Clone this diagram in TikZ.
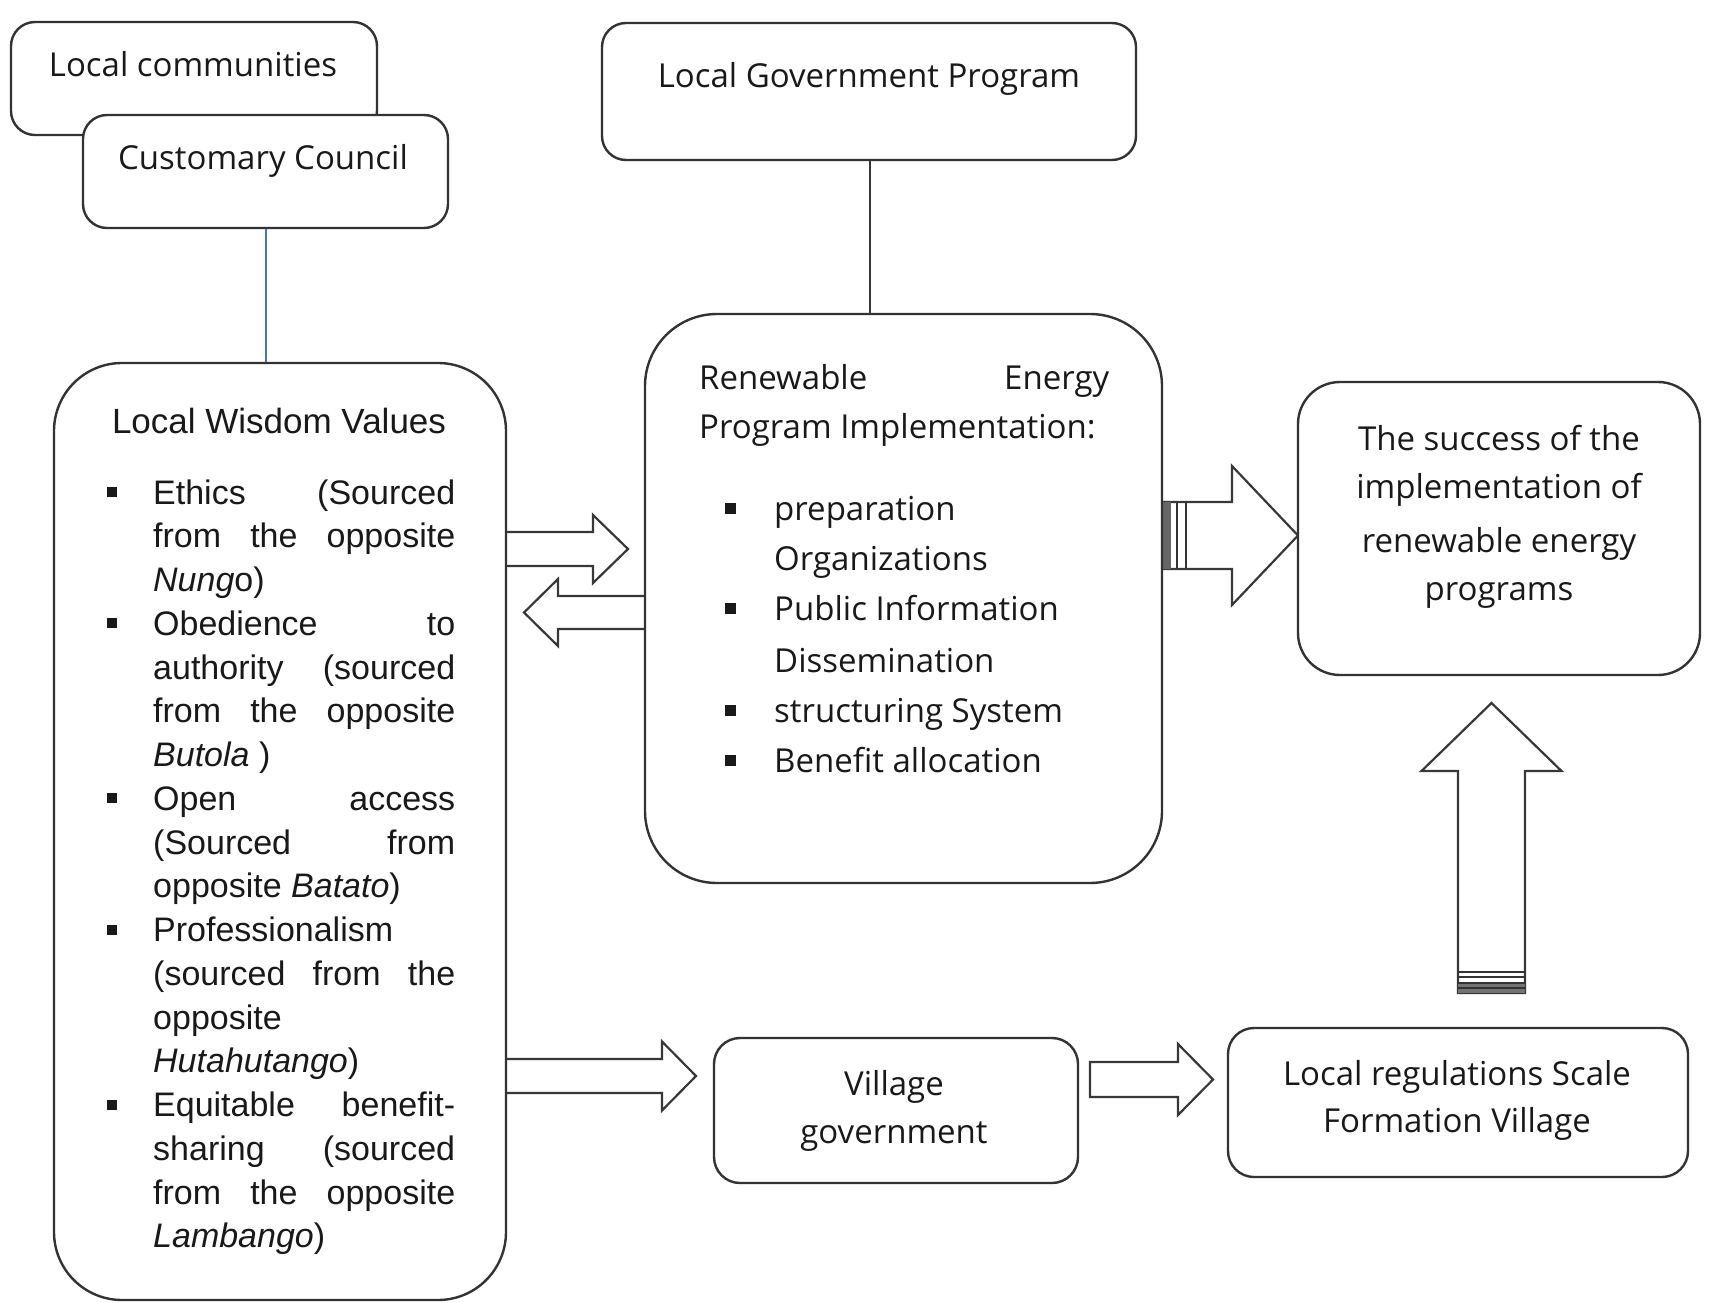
\documentclass[tikz,border=0pt]{standalone}
\usepackage{fontspec}
\setmainfont{Open Sans}
\newfontfamily\arialf{Liberation Sans}
\usetikzlibrary{calc}
\definecolor{linkblue}{HTML}{4472C4}
\tikzset{
  box/.style={draw=black!80, line width=2.4pt, rounded corners=#1, fill=white, inner sep=0pt},
  box/.default=24pt,
  txt/.style={inner sep=0pt, text=black!90, font=\fontsize{33}{40}\selectfont},
  ltxt/.style={inner sep=0pt, text=black!90, font=\arialf\fontsize{34}{40}\selectfont},
  blockarrow/.style={draw=black!78, line width=2.2pt, line join=miter, fill=white},
  sq/.style={fill=black!90, inner sep=0pt, minimum size=#1},
  link/.style={draw=black!78, line width=2pt},
}
\newcommand{\blockarr}[6]{%
  \coordinate (bab) at ($(#2)!#5!(#1)$);
  \draw[blockarrow] ($(#1)!#3!90:(#2)$) -- ($(bab)!#3!-90:(#1)$) -- ($(bab)!#4!-90:(#1)$) -- (#2)
     -- ($(bab)!#4!90:(#1)$) -- ($(bab)!#3!90:(#1)$) -- ($(#1)!#3!-90:(#2)$) #6;
}
\begin{document}
\begin{tikzpicture}[x=1pt,y=-1pt]
\useasboundingbox[fill=white] (0,0) rectangle (1709,1303);

\path (280,831.5) coordinate (lwc) (903.5,598.5) coordinate (rec)
      (1499,528.5) coordinate (scc) (896,1110.5) coordinate (vgc);

% arrows (drawn under boxes)
\coordinate (a1s) at (506,549);   \coordinate (a1t) at (628,549);
\blockarr{a1s}{a1t}{17pt}{34pt}{35pt}{}
\coordinate (a2s) at (645,612.5); \coordinate (a2t) at (524,612.5);
\blockarr{a2s}{a2t}{16.5pt}{33.5pt}{34pt}{}
\coordinate (a3s) at (1164,535.5); \coordinate (a3t) at (1298,535.5);
\blockarr{a3s}{a3t}{33.5pt}{69.5pt}{66pt}{-- cycle}
\fill[black!60] (1163,502) rectangle (1171,569);
\draw[black!80, line width=1.8pt] (1177,502) -- (1177,569) (1186,502) -- (1186,569);
\coordinate (a4s) at (1491.5,993); \coordinate (a4t) at (1491.5,703);
\blockarr{a4s}{a4t}{33.5pt}{70pt}{68pt}{-- cycle}
\fill[black!55] (1458,983) rectangle (1525,993);
\draw[black!80, line width=1.6pt] (1458,972) -- (1525,972) (1458,977) -- (1525,977)
   (1458,983) -- (1525,983) (1458,988) -- (1525,988);
\coordinate (a5s) at (506,1076); \coordinate (a5t) at (696,1076);
\blockarr{a5s}{a5t}{17pt}{34.5pt}{34pt}{}
\coordinate (a6s) at (1090,1079.5); \coordinate (a6t) at (1213,1079.5);
\blockarr{a6s}{a6t}{17.5pt}{35.5pt}{35pt}{-- cycle}

% boxes
\node[box, minimum width=366pt, minimum height=113pt] (lc) at (194,78.5) {};
\node[box, minimum width=365pt, minimum height=113pt] (cc) at (265.5,171.5) {};
\node[box, minimum width=534pt, minimum height=137pt] (lg) at (869,91.5) {};
\node[box=68pt, minimum width=452pt, minimum height=937pt] (lw) at (lwc) {};
\node[box=72pt, minimum width=517pt, minimum height=569pt] (re) at (rec) {};
\node[box=42pt, minimum width=402pt, minimum height=293pt] (sc) at (scc) {};
\node[box=26pt, minimum width=364pt, minimum height=145pt] (vg) at (vgc) {};
\node[box=26pt, minimum width=460pt, minimum height=149pt] (lr) at (1458,1102.5) {};

% connectors
\draw[link] (lg.south -| 870,0) -- (re.north -| 870,0);
\draw[linkblue, line width=1.6pt] (cc.south -| 266,0) -- (lw.north -| 266,0);

% texts
\node[txt, anchor=base] (lct) at (193,77) {Local communities};
\node[txt, anchor=base] (cct) at (263,170) {Customary Council};
\node[txt, anchor=base] (lgt) at (869,88) {Local Government Program};

\node[ltxt, font=\arialf\fontsize{35}{40}\selectfont, anchor=base] (lwt) at (279,433) {Local Wisdom Values};
\foreach \i/\t in {
  0/{\makebox[302pt][s]{Ethics (Sourced}},
  1/{\makebox[302pt][s]{from the opposite}},
  2/{\textit{Nung}o)},
  3/{\makebox[302pt][s]{Obedience to}},
  4/{\makebox[302pt][s]{authority (sourced}},
  5/{\makebox[302pt][s]{from the opposite}},
  6/{\textit{Butola} )},
  7/{\makebox[302pt][s]{Open access}},
  8/{\makebox[302pt][s]{(Sourced from}},
  9/{opposite \textit{Batato})},
  10/{Professionalism},
  11/{\makebox[302pt][s]{(sourced from the}},
  12/{opposite},
  13/{\textit{Hutahutango})},
  14/{\makebox[302pt][s]{Equitable benefit-}},
  15/{\makebox[302pt][s]{sharing (sourced}},
  16/{\makebox[302pt][s]{from the opposite}},
  17/{\textit{Lambango})}} {
  \node[ltxt, anchor=base west] (lwl\i) at (153,504+\i*43.76) {\t};
}
\foreach \i in {0,3,7,10,14} {
  \node[sq=10pt] (lwb\i) at (112,492+\i*43.76) {};
}

\node[txt, anchor=base west] (ret1) at (699,389) {\makebox[410pt][s]{Renewable Energy}};
\node[txt, anchor=base west] (ret2) at (699,438) {Program Implementation:};
\node[txt, anchor=base west] (rei1) at (774,520) {preparation};
\node[txt, anchor=base west] (rei2) at (774,570) {Organizations};
\node[txt, anchor=base west] (rei3) at (774,620) {Public Information};
\node[txt, anchor=base west] (rei4) at (774,672) {Dissemination};
\node[txt, anchor=base west] (rei5) at (774,722) {structuring System};
\node[txt, anchor=base west] (rei6) at (774,772) {Benefit allocation};
\foreach \y [count=\k] in {520,620,722,772} {
  \node[sq=11pt] (reb\k) at (730,\y-12) {};
}

\node[txt, anchor=base] (sct1) at (1499,450) {The success of the};
\node[txt, anchor=base] (sct2) at (1499,498) {implementation of};
\node[txt, anchor=base] (sct3) at (1499,552) {renewable energy};
\node[txt, anchor=base] (sct4) at (1499,600) {programs};

\node[txt, anchor=base] (vgt1) at (894,1095) {Village};
\node[txt, anchor=base] (vgt2) at (894,1143) {government};

\node[txt, anchor=base] (lrt1) at (1457,1085) {Local regulations Scale};
\node[txt, anchor=base] (lrt2) at (1457,1132) {Formation Village};
\end{tikzpicture}
\end{document}
